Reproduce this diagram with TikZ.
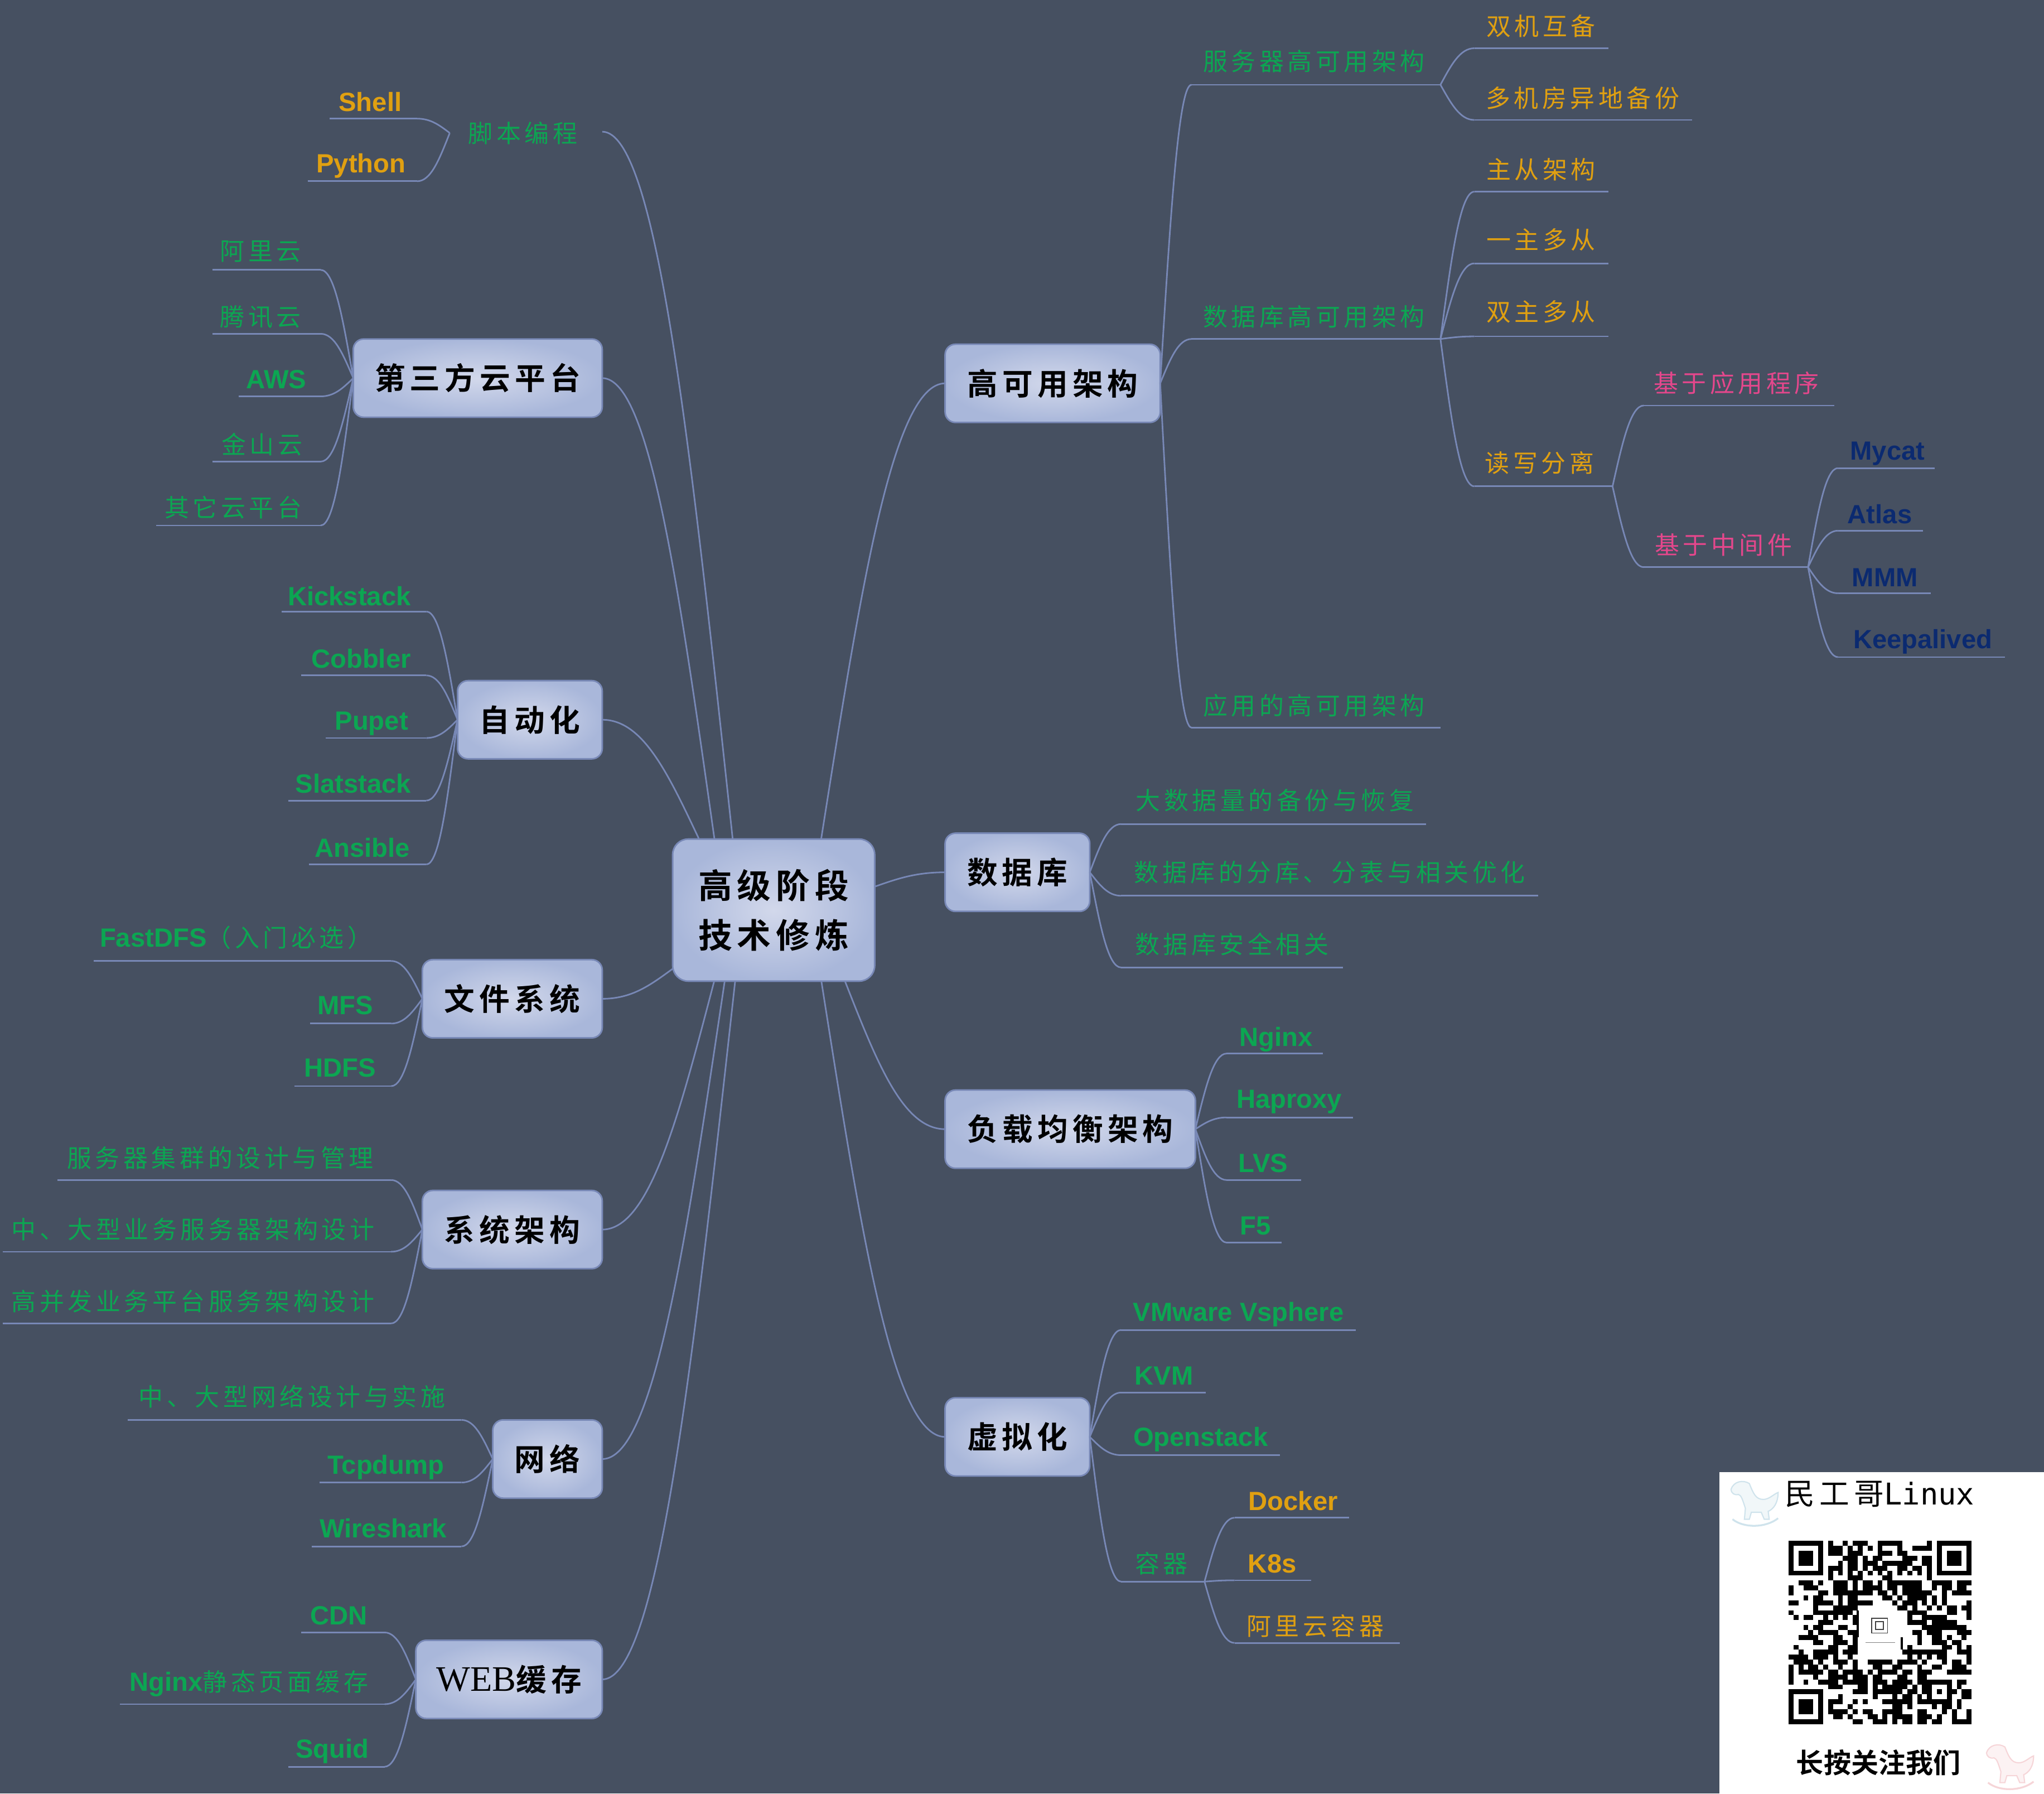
\documentclass[tikz,border=0pt]{standalone}
\usepackage{fontspec}
\usetikzlibrary{calc}
\setmainfont{Liberation Sans}
\newfontfamily\cjfont[LetterSpace=15]{Noto Sans CJK SC}
\newfontfamily\cjboxfont[LetterSpace=15]{Noto Sans CJK SC Bold}
\newfontfamily\cjplain{Noto Sans CJK SC Bold}
\newfontfamily\wspfont{DejaVu Sans Mono}
\newfontfamily\serfont{Liberation Serif}
\definecolor{bgcol}{HTML}{465061}
\definecolor{linecol}{HTML}{7888B6}
\definecolor{boxin}{HTML}{D2D8EB}
\definecolor{boxout}{HTML}{A9B7DA}
\definecolor{grn}{HTML}{0CA652}
\definecolor{org}{HTML}{E0A011}
\definecolor{pnk}{HTML}{E4478C}
\definecolor{nvy}{HTML}{0B2A70}
\definecolor{hblue}{HTML}{CFE3EC}
\definecolor{hpink}{HTML}{F6D5D8}
\newcommand\cjt[1]{{\fontsize{18.8}{22}\cjfont #1}}
\newcommand\lat[1]{\raisebox{0pt}[\height][0pt]{\fontsize{20.2}{24}\selectfont\bfseries #1}}
\newcommand\boxt[1]{{\fontsize{23.4}{28}\cjboxfont #1}}
\tikzset{
  link/.style={draw=linecol,line width=1.2pt},
  lbl/.style={inner sep=0pt,outer sep=0pt},
  cbox/.style={rectangle,rounded corners=8pt,draw=linecol,line width=1.2pt,inner color=boxin,outer color=boxout,shading=radial,inner sep=0pt,outer sep=0pt,text=black},
}
\newcommand\conn[2]{\draw[link] let \p1=(#1),\p2=(#2) in (\p1) .. controls ({\x1+.32*(\x2-\x1)},{\y1+.55*(\y2-\y1)}) and ({\x2-.42*(\x2-\x1)},\y2) .. (\p2);}
\newcommand\leaf[7]{%
  \coordinate (#1-a) at (#2,#4);\coordinate (#1-b) at (#3,#4);
  \draw[link] (#1-a)--(#1-b);
  \node[lbl] (#1) at (#5,#6) {#7};}
\newcommand\qrr[2]{\foreach \a/\b in {#2}{\fill[black] (\a,#1) rectangle ({\b+1},{#1+1});}}
\newcommand\finder[2]{\fill[black] (#1,#2) rectangle ({#1+7},{#2+7});\fill[white] ({#1+1},{#2+1}) rectangle ({#1+6},{#2+6});\fill[black] ({#1+2},{#2+2}) rectangle ({#1+5},{#2+5});}
\newcommand\horse[4]{\begin{scope}[shift={(#1,#2)},x=#3 pt,y=-#3 pt,draw=#4,line width=.9pt,fill=#4!30!white]
  \filldraw (0.05,0.22) .. controls (0.1,0.05) and (0.3,0.02) .. (0.42,0.1) .. controls (0.5,0.3) and (0.55,0.42) .. (0.7,0.42) .. controls (0.82,0.42) and (0.9,0.32) .. (1,0.28) .. controls (1,0.5) and (0.9,0.62) .. (0.8,0.66) -- (0.82,0.82) -- (0.72,0.82) -- (0.66,0.68) -- (0.46,0.68) -- (0.42,0.82) -- (0.32,0.82) -- (0.34,0.6) .. controls (0.28,0.42) and (0.26,0.34) .. (0.2,0.32) .. controls (0.12,0.34) and (0.06,0.3) .. (0.05,0.22) -- cycle;
  \draw[line width=1.4pt] (0.08,0.82) .. controls (0.3,1) and (0.75,1) .. (1,0.8);
\end{scope}}
\begin{document}
\begin{tikzpicture}[x=1pt,y=-1pt]
\useasboundingbox (0,0) rectangle (1568,1375.5);
\fill[bgcol] (0,0) rectangle (1568,1375.5);

% anchors on the central topic
\coordinate (ct-a) at (630,643);\coordinate (ct-b) at (562,643);\coordinate (ct-c) at (548,643);\coordinate (ct-d) at (536,643);
\coordinate (ct-e) at (516,743);\coordinate (ct-f) at (548,752);\coordinate (ct-g) at (556,752);\coordinate (ct-h) at (564,752);
\coordinate (ct-i) at (671,680);\coordinate (ct-j) at (648,752);\coordinate (ct-k) at (630,752);

% connectors central -> main topics (under the boxes)
\coordinate (sb) at (462,101);
\conn{ct-a}{725,294}\conn{ct-b}{sb}\conn{ct-c}{462,290}\conn{ct-d}{462,552}
\conn{ct-e}{462,766}\conn{ct-f}{462,943}\conn{ct-g}{462,1119}\conn{ct-h}{462,1288}
\conn{ct-i}{725,669}\conn{ct-j}{725,866}\conn{ct-k}{725,1102}

% main topics
\node[cbox,minimum width=155pt,minimum height=109pt,rounded corners=12pt,align=center,font=\fontsize{26}{38}\cjboxfont] (ct) at (593.5,698) {高级阶段\\技术修炼};
\node[cbox,minimum width=165pt,minimum height=60pt] (ha) at (807.5,294) {\boxt{高可用架构}};
\node[cbox,minimum width=111pt,minimum height=60pt] (db) at (780.5,669) {\boxt{数据库}};
\node[cbox,minimum width=192pt,minimum height=60pt] (lb) at (821,866) {\boxt{负载均衡架构}};
\node[cbox,minimum width=111pt,minimum height=60pt] (vm) at (780.5,1102) {\boxt{虚拟化}};
\node[cbox,minimum width=191pt,minimum height=60pt] (cl) at (366.5,290) {\boxt{第三方云平台}};
\node[cbox,minimum width=111pt,minimum height=60pt] (au) at (406.5,552) {\boxt{自动化}};
\node[cbox,minimum width=138pt,minimum height=60pt] (fs) at (393,766) {\boxt{文件系统}};
\node[cbox,minimum width=138pt,minimum height=60pt] (sy) at (393,943) {\boxt{系统架构}};
\node[cbox,minimum width=84pt,minimum height=60pt] (nw) at (420,1119) {\boxt{网络}};
\node[cbox,minimum width=143pt,minimum height=60pt] (wc) at (390.5,1288) {{\fontsize{27.5}{28}\serfont WEB}\boxt{缓存}};

% --- high availability
\leaf{h1}{914}{1105}{65}{1008}{47}{\color{grn}\cjt{服务器高可用架构}}
\leaf{h2}{914}{1105}{260}{1008}{243}{\color{grn}\cjt{数据库高可用架构}}
\leaf{h3}{914}{1105}{558}{1008}{541}{\color{grn}\cjt{应用的高可用架构}}
\conn{ha.east}{h1-a}\conn{ha.east}{h2-a}\conn{ha.east}{h3-a}
\leaf{h11}{1131}{1234}{37}{1182}{20}{\color{org}\cjt{双机互备}}
\leaf{h12}{1131}{1298}{92}{1214}{75}{\color{org}\cjt{多机房异地备份}}
\conn{h1-b}{h11-a}\conn{h1-b}{h12-a}
\leaf{h21}{1131}{1234}{147}{1182}{130}{\color{org}\cjt{主从架构}}
\leaf{h22}{1131}{1234}{202}{1182}{184}{\color{org}\cjt{一主多从}}
\leaf{h23}{1131}{1234}{258}{1182}{239}{\color{org}\cjt{双主多从}}
\leaf{h24}{1131}{1237}{373}{1181}{355}{\color{org}\cjt{读写分离}}
\conn{h2-b}{h21-a}\conn{h2-b}{h22-a}\conn{h2-b}{h23-a}\conn{h2-b}{h24-a}
\leaf{rw1}{1261}{1407}{311}{1332}{294}{\color{pnk}\cjt{基于应用程序}}
\leaf{rw2}{1261}{1387}{435}{1322}{418}{\color{pnk}\cjt{基于中间件}}
\conn{h24-b}{rw1-a}\conn{h24-b}{rw2-a}
\leaf{mw1}{1410}{1484}{359}{1448}{346}{\color{nvy}\lat{Mycat}}
\leaf{mw2}{1410}{1475}{407}{1442}{394}{\color{nvy}\lat{Atlas}}
\leaf{mw3}{1410}{1481}{455}{1446}{443}{\color{nvy}\lat{MMM}}
\leaf{mw4}{1410}{1538}{504}{1475}{490}{\color{nvy}\lat{Keepalived}}
\conn{rw2-b}{mw1-a}\conn{rw2-b}{mw2-a}\conn{rw2-b}{mw3-a}\conn{rw2-b}{mw4-a}
% --- database
\leaf{d1}{860}{1094}{632}{978}{614}{\color{grn}\cjt{大数据量的备份与恢复}}
\leaf{d2}{860}{1180}{687}{1020}{669}{\color{grn}\cjt{数据库的分库、分表与相关优化}}
\leaf{d3}{860}{1030}{742}{945}{724}{\color{grn}\cjt{数据库安全相关}}
\conn{db.east}{d1-a}\conn{db.east}{d2-a}\conn{db.east}{d3-a}
% --- load balance
\leaf{l1}{941}{1015}{808}{979}{795}{\color{grn}\lat{Nginx}}
\leaf{l2}{941}{1038}{857}{989}{843}{\color{grn}\lat{Haproxy}}
\leaf{l3}{941}{998}{905}{969}{892}{\color{grn}\lat{LVS}}
\leaf{l4}{941}{983}{953}{963}{940}{\color{grn}\lat{F5}}
\conn{lb.east}{l1-a}\conn{lb.east}{l2-a}\conn{lb.east}{l3-a}\conn{lb.east}{l4-a}
% --- virtualisation
\leaf{v1}{860}{1040}{1020}{950}{1006}{\color{grn}\lat{VMware Vsphere}}
\leaf{v2}{860}{925}{1068}{893}{1055}{\color{grn}\lat{KVM}}
\leaf{v3}{860}{982}{1116}{921}{1102}{\color{grn}\lat{Openstack}}
\leaf{v4}{860}{924}{1213}{891}{1199}{\color{grn}\cjt{容器}}
\conn{vm.east}{v1-a}\conn{vm.east}{v2-a}\conn{vm.east}{v3-a}\conn{vm.east}{v4-a}
\leaf{c1}{947}{1035}{1164}{992}{1151}{\color{org}\lat{Docker}}
\leaf{c2}{947}{1006}{1212}{976}{1199}{\color{org}\lat{K8s}}
\leaf{c3}{947}{1074}{1260}{1009}{1247}{\color{org}\cjt{阿里云容器}}
\conn{v4-b}{c1-a}\conn{v4-b}{c2-a}\conn{v4-b}{c3-a}
% --- scripting
\node[lbl,text=grn] (sc) at (401,102) {\cjt{脚本编程}};
\coordinate (scl) at (345,102);
\leaf{s1}{253}{320}{91}{284}{78}{\color{org}\lat{Shell}}
\leaf{s2}{236}{320}{139}{277}{125}{\color{org}\lat{Python}}
\conn{scl}{s1-b}\conn{scl}{s2-b}
% --- cloud
\leaf{k1}{163}{246}{207}{200}{193}{\color{grn}\cjt{阿里云}}
\leaf{k2}{163}{246}{256}{200}{243}{\color{grn}\cjt{腾讯云}}
\leaf{k3}{183}{246}{304}{212}{291}{\color{grn}\lat{AWS}}
\leaf{k4}{163}{246}{354}{201}{341}{\color{grn}\cjt{金山云}}
\leaf{k5}{120}{246}{403}{179}{389}{\color{grn}\cjt{其它云平台}}
\conn{cl.west}{k1-b}\conn{cl.west}{k2-b}\conn{cl.west}{k3-b}\conn{cl.west}{k4-b}\conn{cl.west}{k5-b}
% --- automation
\leaf{a1}{216}{327}{469}{268}{457}{\color{grn}\lat{Kickstack}}
\leaf{a2}{231}{327}{518}{277}{505}{\color{grn}\lat{Cobbler}}
\leaf{a3}{250}{327}{566}{285}{553}{\color{grn}\lat{Pupet}}
\leaf{a4}{221}{327}{614}{271}{601}{\color{grn}\lat{Slatstack}}
\leaf{a5}{237}{327}{663}{278}{650}{\color{grn}\lat{Ansible}}
\conn{au.west}{a1-b}\conn{au.west}{a2-b}\conn{au.west}{a3-b}\conn{au.west}{a4-b}\conn{au.west}{a5-b}
% --- file systems
\leaf{f1}{72}{300}{737}{181}{719}{\color{grn}\lat{FastDFS}\cjt{（入门必选）}}
\leaf{f2}{238}{300}{785}{265}{771}{\color{grn}\lat{MFS}}
\leaf{f3}{226}{300}{833}{261}{819}{\color{grn}\lat{HDFS}}
\conn{fs.west}{f1-b}\conn{fs.west}{f2-b}\conn{fs.west}{f3-b}
% --- system architecture
\leaf{y1}{44}{300}{905}{169}{888}{\color{grn}\cjt{服务器集群的设计与管理}}
\leaf{y2}{2}{300}{960}{148}{943}{\color{grn}\cjt{中、大型业务服务器架构设计}}
\leaf{y3}{2}{300}{1015}{148}{998}{\color{grn}\cjt{高并发业务平台服务架构设计}}
\conn{sy.west}{y1-b}\conn{sy.west}{y2-b}\conn{sy.west}{y3-b}
% --- network
\leaf{n1}{98}{354}{1089}{224}{1071}{\color{grn}\cjt{中、大型网络设计与实施}}
\leaf{n2}{245}{354}{1137}{296}{1123}{\color{grn}\lat{Tcpdump}}
\leaf{n3}{239}{354}{1186}{294}{1172}{\color{grn}\lat{Wireshark}}
\conn{nw.west}{n1-b}\conn{nw.west}{n2-b}\conn{nw.west}{n3-b}
% --- web cache
\leaf{w1}{231}{295}{1252}{260}{1239}{\color{grn}\lat{CDN}}
\leaf{w2}{92}{295}{1307}{191}{1290}{\color{grn}\lat{Nginx}\cjt{静态页面缓存}}
\leaf{w3}{221}{295}{1355}{255}{1341}{\color{grn}\lat{Squid}}
\conn{wc.west}{w1-b}\conn{wc.west}{w2-b}\conn{wc.west}{w3-b}

% --- QR card
\fill[white] (1319,1129) rectangle (1568,1375.5);
\horse{1326}{1134}{38}{hblue}
\horse{1522}{1336}{38}{hpink}
\node[lbl] (qt) at (1442,1146) {\fontsize{23}{26}\cjfont 民工哥{\wspfont Linux}};
\node[lbl] (qb) at (1441,1352) {\fontsize{21}{26}\cjplain 长按关注我们};
\begin{scope}[shift={(1372,1181.8)},x=3.795pt,y=-3.795pt]
\finder{0}{0}\finder{30}{0}\finder{0}{30}
\qrr{0}{8/8,11/11,13/15,18/22,28/28}
\qrr{1}{8/10,12/12,14/14,16/16,18/18,22/22,25/28}
\qrr{2}{8/10,12/14,18/20,22/23}
\qrr{3}{11/13,15/15,17/18,23/25,27/28}
\qrr{4}{10/10,12/13,15/17,19/24,27/28}
\qrr{5}{8/10,12/13,15/15,17/19,22/23,25/26,28/28}
\qrr{6}{8/8,10/10,12/12,14/14,16/16,18/18,20/20,22/22,24/24,26/26,28/28}
\qrr{7}{8/8,12/14,19/20,28/28}
\qrr{8}{2/4,6/6,9/11,13/13,15/16,18/18,20/26,29/32,34/36}
\qrr{9}{0/0,3/4,5/5,9/11,13/13,15/18,20/21,23/26,29/29,31/32,34/35}
\qrr{10}{0/0,6/7,9/16,18/19,21/21,23/28,31/31,33/36}
\qrr{11}{3/3,5/6,10/10,12/13,19/20,22/22,24/27,29/29,31/31}
\qrr{12}{0/1,5/8,10/10,12/16,21/21,23/25,27/27,29/29,31/31,36/36}
\qrr{13}{5/5,9/13,22/23,25/25,28/28,30/30,32/33,35/36}
\qrr{14}{0/0,5/12,24/27,32/33,36/36}
\qrr{15}{1/1,3/4,7/7,9/9,11/11,13/13,24/24,27/31,36/36}
\qrr{16}{6/8,13/13,24/27,29/33}
\qrr{17}{3/3,5/6,10/11,27/35}
\qrr{18}{4/4,6/9,12/13,25/26,28/30,34/36}
\qrr{19}{2/5,9/10,13/13,26/26,29/30,32/32,35/35}
\qrr{20}{5/6,9/11,13/13,26/26,29/31,33/34}
\qrr{21}{1/1,8/9,12/13,24/24,31/32,34/34,36/36}
\qrr{22}{2/2,5/9,11/13,23/31,34/36}
\qrr{23}{0/3,5/7,9/9,12/12,24/24,26/26,28/28,30/31,36/36}
\qrr{24}{1/4,6/6,9/11,13/13,16/20,22/25,27/27,31/31,33/34,36/36}
\qrr{25}{0/0,2/2,4/5,7/7,10/10,13/13,17/18,21/22,26/26,29/30,33/35}
\qrr{26}{0/0,2/6,8/9,11/14,16/16,18/21,23/24,26/28,32/36}
\qrr{27}{0/0,5/5,8/11,13/15,17/18,22/23,26/27}
\qrr{28}{0/0,3/3,6/9,11/15,17/19,21/24,26/32,34/35}
\qrr{29}{8/10,14/15,17/17,19/23,25/25,27/28,32/32,34/34}
\qrr{30}{13/15,17/22,24/25,27/28,30/30,32/33,35/36}
\qrr{31}{10/10,17/17,21/21,23/24,26/26,28/28,32/32,35/36}
\qrr{32}{8/10,13/13,15/15,19/24,26/32,34/34}
\qrr{33}{8/8,12/12,21/22,24/24,29/29,31/32,34/34}
\qrr{34}{8/11,13/13,15/16,19/22,26/27,31/31,33/33,36/36}
\qrr{35}{9/10,12/12,16/17,19/19,21/24,26/28,30/30,33/33,36/36}
\qrr{36}{13/14,17/19,21/21,23/24,26/27,29/30,33/36}
% logo patch
\fill[white] (14.3,14) rectangle (22.6,23);
\fill[black] (13.8,14) rectangle (14.2,19.5);
\fill[black] (22.7,19.5) rectangle (23.1,22);
\draw[black!75,line width=.7pt] (16.8,15.6) rectangle (20,18.6);
\draw[black!75,line width=.7pt] (17.6,16.3) rectangle (19.2,17.9);
\draw[black!50,line width=.5pt] (15.6,20.5) -- (21.5,20.5);
\end{scope}
\end{tikzpicture}
\end{document}
